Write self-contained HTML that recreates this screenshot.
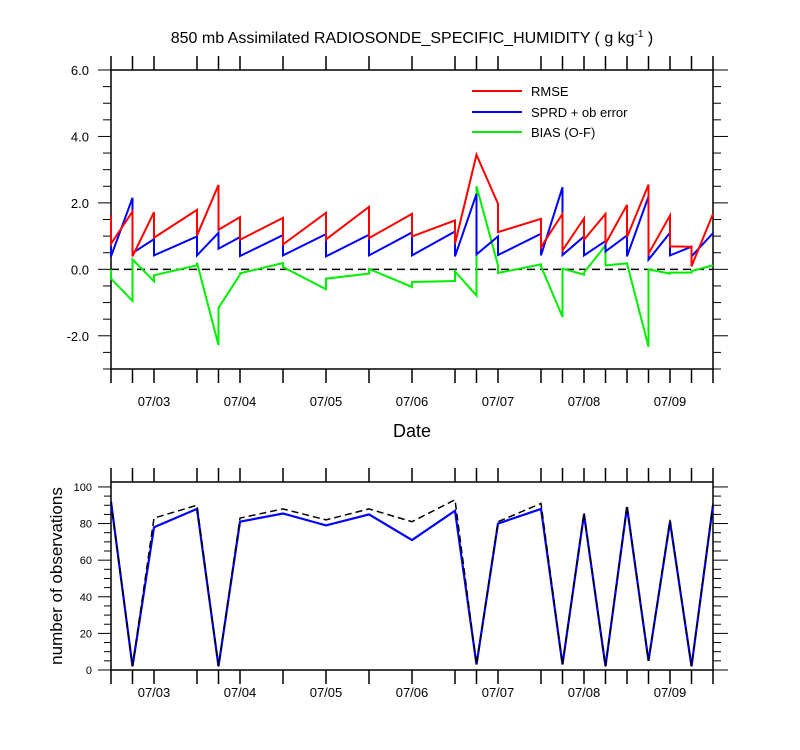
<!DOCTYPE html>
<html><head><meta charset="utf-8"><style>
body{margin:0;background:#fff}
svg{display:block;font-family:"Liberation Sans",Arial,sans-serif}
</style></head><body>
<svg id="c" width="800" height="750" xmlns="http://www.w3.org/2000/svg">
<text x="412" y="43" font-size="16" text-anchor="middle">850 mb Assimilated RADIOSONDE_SPECIFIC_HUMIDITY ( g kg<tspan dy="-6" font-size="10">-1</tspan><tspan dy="6"> )</tspan></text>
<g id="top"></g>
<g id="bot"></g>
</svg>
<script>
const times=[2.5,2.75,3.0,3.5,3.75,4.0,4.5,5.0,5.5,6.0,6.5,6.75,7.0,7.5,7.75,8.0,8.25,8.5,8.75,9.0,9.25,9.5];
const rmseHi=[1.62,1.74,1.72,1.79,2.54,1.57,1.55,1.70,1.88,1.67,1.47,3.45,1.97,1.52,1.67,1.53,1.67,1.94,2.55,1.62,0.68,1.67];
const rmseLo=[0.77,0.39,0.95,1.02,1.19,0.89,0.75,0.90,0.94,0.99,0.77,3.45,1.12,0.67,0.57,0.89,0.77,0.97,0.47,0.69,0.09,1.67];
const sprdHi=[0.70,2.15,0.91,0.99,1.10,0.97,1.03,1.06,1.04,1.11,1.14,2.27,0.99,1.07,2.47,0.99,0.85,1.02,2.19,1.10,0.68,1.09];
const sprdLo=[0.39,0.49,0.42,0.42,0.62,0.40,0.42,0.39,0.42,0.42,0.39,0.45,0.43,0.42,0.43,0.42,0.54,0.39,0.29,0.42,0.39,1.09];
const biasHi=[0.00,-0.95,-0.36,0.12,-2.28,-0.16,0.19,-0.60,-0.13,-0.53,-0.35,-0.79,0.12,0.15,-1.43,-0.16,0.72,0.18,-2.33,-0.13,-0.10,0.12];
const biasLo=[-0.28,0.30,-0.18,0.20,-1.16,-0.12,0.07,-0.28,0.01,-0.38,-0.06,2.50,-0.11,0.09,0.02,-0.10,0.12,0.18,0.00,-0.10,-0.05,0.12];
const obsUsed=[92,2,78,88,2,81,85.5,79,85,71,87,3,80,88,3,85,2,89,5,81,2,90];
const obsTotal=[92,2,83,90,2,83,88,82,88,81,93,3,81,91,3,86,2,90,5,82,2,91];
const dayTicks=[3,4,5,6,7,8,9];
const dayLabels=["07/03","07/04","07/05","07/06","07/07","07/08","07/09"];
const topTicks=[-2,0,2,4,6];
const topTickLabels=["-2.0","0.0","2.0","4.0","6.0"];
const botTicks=[0,20,40,60,80,100];

const NS="http://www.w3.org/2000/svg";
function mk(p,tag,a){const e=document.createElementNS(NS,tag);for(const k in a)e.setAttribute(k,a[k]);p.appendChild(e);return e;}
const X0=111,X1=713,T0=2.5,T1=9.5;
const xs=t=>X0+(t-T0)/(T1-T0)*(X1-X0);
const ty=v=>369-(v+3)/9*299;
const by=v=>670-v/102.7*188;

function frameAxes(g,yTop,yBot,name){
  const r=mk(g,'rect',{x:X0,y:yTop,width:X1-X0,height:yBot-yTop,fill:'none',stroke:'#000','stroke-width':1.5});
  
  times.forEach(t=>{
    const x=xs(t);
    const a=mk(g,'line',{x1:x,x2:x,y1:yTop-14,y2:yTop,stroke:'#000','stroke-width':1.5});
    
    const b=mk(g,'line',{x1:x,x2:x,y1:yBot,y2:yBot+14,stroke:'#000','stroke-width':1.5});
    
  });
}
function poly(g,pts,color,w,name,dash){
  const p=mk(g,'polyline',{points:pts.map(p=>p.join(',')).join(' '),fill:'none',stroke:color,'stroke-width':w,'stroke-linejoin':'miter'});
  if(dash)p.setAttribute('stroke-dasharray',dash);
  
}
// top panel
const gt=document.getElementById('top');
frameAxes(gt,70,369,'top-plot');
for(let v=-3;v<=6.001;v+=0.5){
  const y=ty(v);const maj=Math.abs(v/2-Math.round(v/2))<1e-6;
  const l=mk(gt,'line',{x1:X0-(maj?13:8),x2:X0,y1:y,y2:y,stroke:'#000','stroke-width':1});
  
  const r=mk(gt,'line',{x1:X1,x2:X1+(maj?15:8),y1:y,y2:y,stroke:'#000','stroke-width':1});
  
}
topTicks.forEach((v,i)=>{const t=mk(gt,'text',{x:89,y:ty(v)+5,'font-size':13,'text-anchor':'end'});t.textContent=topTickLabels[i];
  });
dayTicks.forEach((d,i)=>{const t=mk(gt,'text',{x:xs(d),y:406,'font-size':13,'text-anchor':'middle'});t.textContent=dayLabels[i];
  });
const dt=mk(gt,'text',{x:412,y:437,'font-size':18,'text-anchor':'middle'});dt.textContent='Date';

poly(gt,[[X0,ty(0)],[X1,ty(0)]],'#000',1.5,'zero-line','8,5');
const pairs=(hi,lo)=>{const p=[];times.forEach((t,i)=>{p.push([xs(t),ty(hi[i])]);p.push([xs(t),ty(lo[i])]);});return p;};
poly(gt,pairs(biasHi,biasLo),'#00ee00',2,'bias-line');
poly(gt,pairs(sprdHi,sprdLo),'#0000ff',2,'sprd-line');
poly(gt,pairs(rmseHi,rmseLo),'#ff0000',2,'rmse-line');
[['RMSE','#ff0000',91],['SPRD + ob error','#0000ff',112],['BIAS (O-F)','#00ee00',132]].forEach(([lab,c,y])=>{
  const l=mk(gt,'line',{x1:472,x2:522,y1:y,y2:y,stroke:c,'stroke-width':2});
  
  const t=mk(gt,'text',{x:531,y:y+5,'font-size':13});t.textContent=lab;
  
});
// bottom panel
const gb=document.getElementById('bot');
frameAxes(gb,482,670,'bottom-plot');
for(let v=0;v<=100;v+=5){
  const y=by(v);const maj=v%20===0;
  const l=mk(gb,'line',{x1:X0-(maj?13:7),x2:X0,y1:y,y2:y,stroke:'#000','stroke-width':1});
  
  const r=mk(gb,'line',{x1:X1,x2:X1+(maj?15:8),y1:y,y2:y,stroke:'#000','stroke-width':1});
  
}
botTicks.forEach(v=>{const t=mk(gb,'text',{x:92,y:by(v)+4,'font-size':11,'text-anchor':'end'});t.textContent=v;
  });
dayTicks.forEach((d,i)=>{const t=mk(gb,'text',{x:xs(d),y:697,'font-size':13,'text-anchor':'middle'});t.textContent=dayLabels[i];
  });
const yt=mk(gb,'text',{x:0,y:0,'font-size':17,'text-anchor':'middle',transform:'translate(62,576) rotate(-90)'});yt.textContent='number of observations';

poly(gb,times.map((t,i)=>[xs(t),by(obsUsed[i])]),'#0000ff',2.2,'obs-used-line');
poly(gb,times.map((t,i)=>[xs(t),by(obsTotal[i])]),'#000',1.5,'obs-total-line','7,4');
</script>
</body></html>
